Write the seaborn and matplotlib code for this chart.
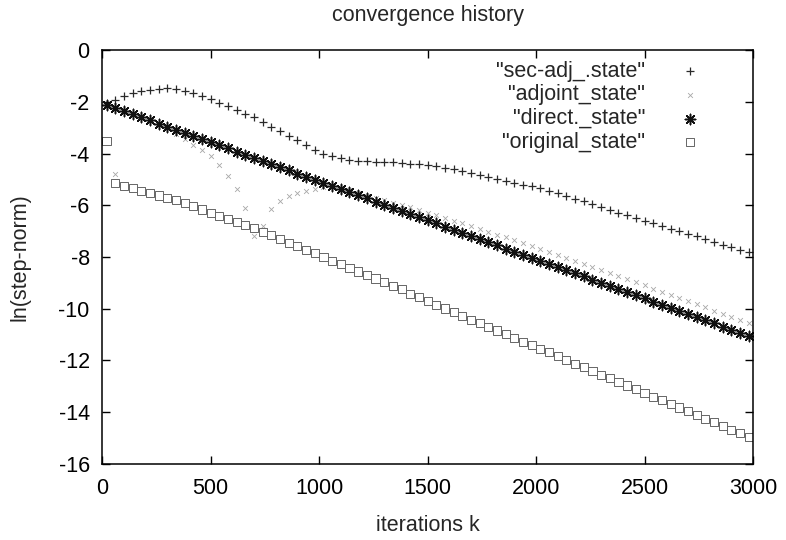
import numpy as np
import pandas as pd
import seaborn as sns
import matplotlib.pyplot as plt

# iteration at which each point was recorded (every 40 iterations)
iterations = np.arange(20, 3000, 40)

sec_adj_state = [
    -2.10, -1.92, -1.78, -1.65, -1.57, -1.52, -1.49, -1.47, -1.50, -1.57,
    -1.65, -1.76, -1.90, -2.04, -2.17, -2.30, -2.45, -2.60, -2.78, -2.96,
    -3.14, -3.31, -3.49, -3.68, -3.87, -4.00, -4.10, -4.18, -4.23, -4.27,
    -4.29, -4.31, -4.32, -4.34, -4.36, -4.39, -4.42, -4.45, -4.49, -4.54,
    -4.60, -4.67, -4.75, -4.83, -4.91, -4.98, -5.06, -5.13, -5.20, -5.27,
    -5.34, -5.44, -5.54, -5.64, -5.74, -5.84, -5.95, -6.06, -6.17, -6.28,
    -6.39, -6.50, -6.60, -6.70, -6.80, -6.90, -7.00, -7.10, -7.20, -7.30,
    -7.41, -7.52, -7.62, -7.72, -7.82,
]

adjoint_state = [
    -2.11, -4.80, -2.35, -2.47, -2.59, -2.71, -2.85, -3.02, -3.25, -3.45,
    -3.65, -3.85, -4.10, -4.45, -4.85, -5.35, -6.10, -7.20, -6.80, -6.15,
    -5.85, -5.65, -5.52, -5.45, -5.38, -5.30, -5.24, -5.32, -5.42, -5.52,
    -5.62, -5.71, -5.80, -5.90, -5.99, -6.08, -6.18, -6.28, -6.38, -6.49,
    -6.59, -6.69, -6.80, -6.90, -7.02, -7.13, -7.24, -7.36, -7.47, -7.58,
    -7.70, -7.81, -7.93, -8.04, -8.15, -8.26, -8.38, -8.50, -8.62, -8.74,
    -8.86, -8.98, -9.10, -9.22, -9.34, -9.46, -9.58, -9.70, -9.82, -9.95,
    -10.07, -10.19, -10.31, -10.43, -10.55,
]

direct_state = [
    -2.11, -2.23, -2.35, -2.47, -2.59, -2.71, -2.84, -2.96, -3.08, -3.20,
    -3.32, -3.44, -3.56, -3.68, -3.80, -3.92, -4.04, -4.16, -4.28, -4.41,
    -4.53, -4.65, -4.77, -4.89, -5.01, -5.13, -5.25, -5.37, -5.49, -5.61,
    -5.73, -5.86, -5.98, -6.10, -6.22, -6.34, -6.46, -6.58, -6.70, -6.82,
    -6.94, -7.06, -7.18, -7.30, -7.43, -7.55, -7.67, -7.79, -7.91, -8.03,
    -8.15, -8.27, -8.39, -8.51, -8.63, -8.75, -8.88, -9.00, -9.12, -9.24,
    -9.36, -9.48, -9.60, -9.72, -9.84, -9.96, -10.08, -10.20, -10.32, -10.45,
    -10.57, -10.69, -10.81, -10.93, -11.05,
]

original_state = [
    -3.50, -5.15, -5.25, -5.34, -5.43, -5.52, -5.62, -5.71, -5.80, -5.91,
    -6.03, -6.16, -6.28, -6.40, -6.53, -6.65, -6.77, -6.89, -7.02, -7.16,
    -7.30, -7.44, -7.58, -7.72, -7.86, -8.00, -8.14, -8.28, -8.42, -8.56,
    -8.70, -8.83, -8.97, -9.11, -9.25, -9.42, -9.56, -9.71, -9.85, -9.99,
    -10.13, -10.27, -10.42, -10.56, -10.70, -10.84, -10.98, -11.13, -11.27, -11.41,
    -11.55, -11.69, -11.84, -11.98, -12.12, -12.26, -12.40, -12.55, -12.69, -12.83,
    -12.97, -13.11, -13.26, -13.40, -13.54, -13.68, -13.82, -13.97, -14.11, -14.25,
    -14.39, -14.53, -14.68, -14.82, -14.96,
]

series_labels = ['"sec-adj_.state"', '"adjoint_state"', '"direct._state"', '"original_state"']

sns.set_theme(style="ticks")
plt.rcParams['font.family'] = ['Liberation Sans', 'DejaVu Sans']
FS = 15.5

fig = plt.figure(figsize=(7.86, 5.40), dpi=100)
ax = fig.add_axes([0.130, 0.141, 0.828, 0.766])

df = pd.DataFrame({
    "k": iterations,
    "sec": sec_adj_state,
    "adj": adjoint_state,
    "dir": direct_state,
    "orig": original_state,
})

sns.scatterplot(data=df, x="k", y="sec", ax=ax, marker="+", s=40,
                color="#2a2a2a", linewidth=0.9, label=series_labels[0])
sns.scatterplot(data=df, x="k", y="adj", ax=ax, marker="x", s=12,
                color="#a8a8a8", linewidth=0.6, label=series_labels[1])
sns.scatterplot(data=df, x="k", y="dir", ax=ax, marker=(8, 2, 0), s=55,
                color="#111111", linewidth=1.1, label=series_labels[2])
sns.scatterplot(data=df, x="k", y="orig", ax=ax, marker="s", s=34,
                facecolor="none", edgecolor="#666666", linewidth=0.7,
                label=series_labels[3])

ax.set_xlim(0, 3000)
ax.set_ylim(-16, 0)
ax.set_xticks(range(0, 3001, 500))
ax.set_yticks(range(-16, 1, 2))
ax.set_yticklabels([str(v) for v in range(-16, 1, 2)])
ax.tick_params(direction="in", top=True, right=True, length=6, width=1,
               labelsize=FS, colors="black")
ax.tick_params(axis="x", pad=10)
ax.tick_params(axis="y", pad=9)
for sp in ax.spines.values():
    sp.set_linewidth(1.1)
    sp.set_color("black")

ax.set_xlabel("iterations k", fontsize=FS, labelpad=12)
ax.set_ylabel("ln(step-norm)", fontsize=FS, labelpad=20)
ax.set_title("convergence history", fontsize=FS, pad=21)

ax.legend(loc="upper right", bbox_to_anchor=(0.92, 0.975), frameon=False,
          markerfirst=False, fontsize=FS, handlelength=1.0,
          handletextpad=1.6, labelspacing=0.13, borderaxespad=0.0,
          borderpad=0.0, scatterpoints=1)

plt.savefig("out.png", dpi=100)
